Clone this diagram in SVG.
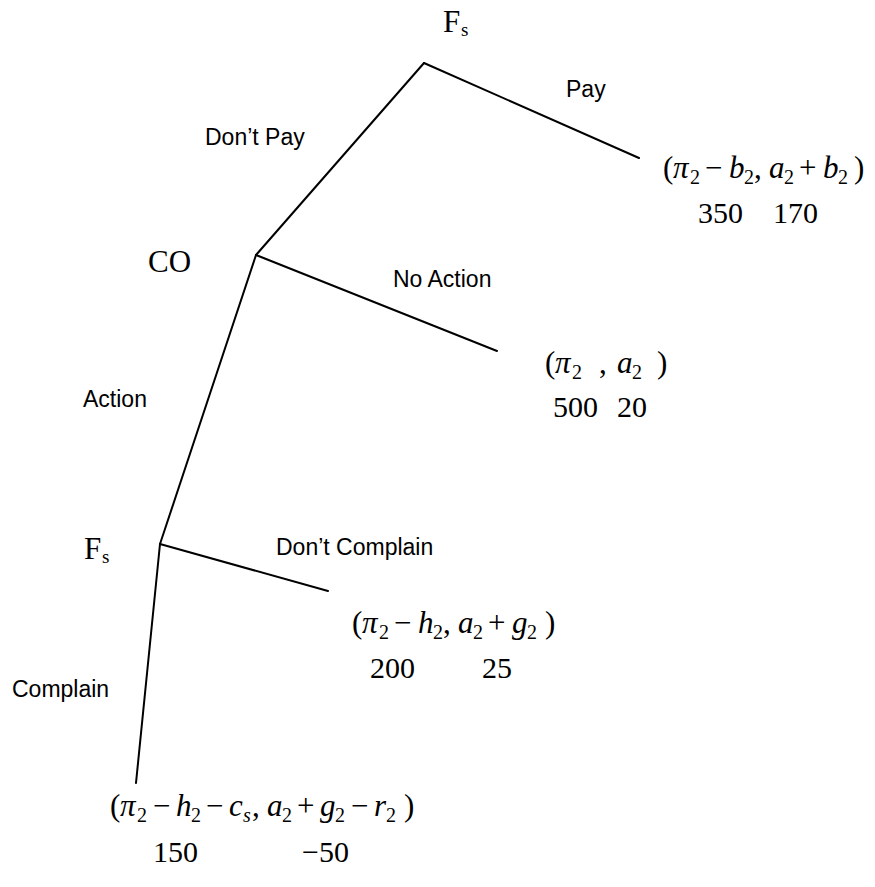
<svg xmlns="http://www.w3.org/2000/svg" width="875" height="887" viewBox="0 0 875 887">
<style>
.bg{fill:#fff}
.edge{stroke:#000;stroke-width:2;fill:none;stroke-linecap:round}
.node{font-family:"Liberation Serif","Times New Roman",serif;font-size:31px;fill:#000}
.nsub{font-size:19px}
.lbl{font-family:"Liberation Sans",Arial,sans-serif;font-size:23px;fill:#000}
.f{font-family:"Liberation Serif","Times New Roman",serif;font-size:31px;fill:#000}
.n{font-family:"Liberation Serif","Times New Roman",serif;font-size:30px;fill:#000}
.i{font-style:italic}
.s{font-size:20px}
</style>
<rect class="bg" x="0" y="0" width="875" height="887"/>
<g id="connectors">
<path class="edge" d="M424,63 L639,158"/>
<path class="edge" d="M424,63 L256,255"/>
<path class="edge" d="M256,255 L497,351"/>
<path class="edge" d="M256,255 L160,544"/>
<path class="edge" d="M160,544 L328,591"/>
<path class="edge" d="M160,544 L136,783"/>
</g>
<g id="node-fs-root"><text class="node" x="443" y="32">F<tspan class="nsub" x="461" y="36">s</tspan></text></g>
<g id="node-co"><text class="node" x="148" y="272">CO</text></g>
<g id="node-fs2"><text class="node" x="84" y="559">F<tspan class="nsub" x="102" y="563">s</tspan></text></g>
<g id="edge-labels">
<text class="lbl" x="566" y="97">Pay</text>
<text class="lbl" x="205" y="145">Don’t Pay</text>
<text class="lbl" x="393" y="287">No Action</text>
<text class="lbl" x="83" y="407">Action</text>
<text class="lbl" x="276" y="555">Don’t Complain</text>
<text class="lbl" x="12" y="697">Complain</text>
</g>
<g id="leaf-pay">
<text class="f"><tspan x="663" y="178">(</tspan><tspan class="i" x="673" y="178">π</tspan><tspan class="s" x="690" y="184">2</tspan><tspan x="705" y="178">−</tspan><tspan class="i" x="729" y="178">b</tspan><tspan class="s" x="744" y="184">2</tspan><tspan x="754" y="178">,</tspan><tspan class="i" x="769" y="178">a</tspan><tspan class="s" x="784" y="184">2</tspan><tspan x="799" y="178">+</tspan><tspan class="i" x="823" y="178">b</tspan><tspan class="s" x="838" y="184">2</tspan><tspan x="854" y="178">)</tspan></text>
<text class="n" x="698" y="223">350</text>
<text class="n" x="773" y="223">170</text>
</g>
<g id="leaf-noaction">
<text class="f"><tspan x="545" y="373">(</tspan><tspan class="i" x="555" y="373">π</tspan><tspan class="s" x="572" y="379">2</tspan><tspan x="599" y="373">,</tspan><tspan class="i" x="617" y="373">a</tspan><tspan class="s" x="632" y="379">2</tspan><tspan x="657" y="373">)</tspan></text>
<text class="n" x="553" y="417">500</text>
<text class="n" x="617" y="417">20</text>
</g>
<g id="leaf-dontcomplain">
<text class="f"><tspan x="352" y="633">(</tspan><tspan class="i" x="362" y="633">π</tspan><tspan class="s" x="379" y="639">2</tspan><tspan x="394" y="633">−</tspan><tspan class="i" x="418" y="633">h</tspan><tspan class="s" x="433" y="639">2</tspan><tspan x="443" y="633">,</tspan><tspan class="i" x="458" y="633">a</tspan><tspan class="s" x="473" y="639">2</tspan><tspan x="488" y="633">+</tspan><tspan class="i" x="512" y="633">g</tspan><tspan class="s" x="527" y="639">2</tspan><tspan x="545" y="633">)</tspan></text>
<text class="n" x="370" y="678">200</text>
<text class="n" x="482" y="678">25</text>
</g>
<g id="leaf-complain">
<text class="f"><tspan x="110" y="816">(</tspan><tspan class="i" x="120" y="816">π</tspan><tspan class="s" x="137" y="822">2</tspan><tspan x="153" y="816">−</tspan><tspan class="i" x="176" y="816">h</tspan><tspan class="s" x="191" y="822">2</tspan><tspan x="206" y="816">−</tspan><tspan class="i" x="229" y="816">c</tspan><tspan class="s i" x="243" y="822">s</tspan><tspan x="252" y="816">,</tspan><tspan class="i" x="267" y="816">a</tspan><tspan class="s" x="282" y="822">2</tspan><tspan x="297" y="816">+</tspan><tspan class="i" x="320" y="816">g</tspan><tspan class="s" x="335" y="822">2</tspan><tspan x="351" y="816">−</tspan><tspan class="i" x="374" y="816">r</tspan><tspan class="s" x="386" y="822">2</tspan><tspan x="404" y="816">)</tspan></text>
<text class="n" x="153" y="862">150</text>
<text class="n" x="302" y="862">−50</text>
</g>
</svg>
